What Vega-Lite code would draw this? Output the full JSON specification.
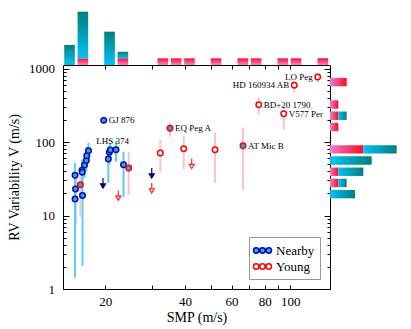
{
  "$schema": "https://vega.github.io/schema/vega-lite/v6.json",
  "padding": {"left": 7, "top": 0, "right": 0, "bottom": 0},
  "columns": 2,
  "spacing": 0,
  "align": "each",
  "bounds": "flush",
  "resolve": {"scale": {"fill": "independent", "stroke": "independent", "color": "independent"}, "legend": {"fill": "independent", "stroke": "independent", "color": "independent"}},
  "config": {
    "font": "Liberation Serif",
    "axis": {"grid": false, "domain": false, "tickColor": "#000000", "labelColor": "#000000", "titleColor": "#000000", "labelFontSize": 13, "titleFontSize": 14, "titleFontWeight": "normal", "labelOverlap": false, "labelFlush": false, "tickWidth": 1},
    "legend": {"labelFontSize": 13, "labelColor": "#000000"}
  },
  "datasets": {
    "pts": [
      {"smp": 15.37, "v": 35.4, "lo": 16.4, "hi": 52.4, "sample": "Nearby"},
      {"smp": 15.43, "v": 22.96, "lo": 7.49, "hi": 32.7, "sample": "Nearby"},
      {"smp": 15.37, "v": 16.84, "lo": 1.42, "hi": 26.3, "sample": "Nearby"},
      {"smp": 16.33, "v": 41.4, "lo": 22.5, "hi": 57.6, "sample": "Nearby"},
      {"smp": 16.40, "v": 18.73, "lo": 2.07, "hi": 34.8, "sample": "Nearby"},
      {"smp": 16.36, "v": 38.9, "lo": 28.9, "hi": 49.2, "sample": "Nearby"},
      {"smp": 16.69, "v": 48.75, "lo": 32.7, "hi": 67.3, "sample": "Nearby"},
      {"smp": 16.96, "v": 56.3, "lo": 39.5, "hi": 78.8, "sample": "Nearby"},
      {"smp": 17.02, "v": 65.3, "lo": 47.7, "hi": 86.6, "sample": "Nearby"},
      {"smp": 17.28, "v": 76.3, "lo": 57.6, "hi": 98.1, "sample": "Nearby"},
      {"smp": 19.72, "v": 197.5, "sample": "Nearby", "label": "GJ 876"},
      {"smp": 20.53, "v": 58.9, "lo": 28.0, "hi": 83.9, "sample": "Nearby"},
      {"smp": 20.71, "v": 72.9, "lo": 49.2, "hi": 92.2, "sample": "Nearby"},
      {"smp": 20.89, "v": 78.1, "lo": 57.6, "hi": 98.1, "sample": "Nearby"},
      {"smp": 21.95, "v": 78.8, "lo": 54.1, "hi": 102.9, "sample": "Nearby"},
      {"smp": 23.43, "v": 49.2, "lo": 18.0, "hi": 74.0, "sample": "Nearby"},
      {"smp": 16.09, "v": 26.28, "lo": 9.63, "hi": 33.8, "sample": "Young", "both": true},
      {"smp": 24.51, "v": 44.4, "lo": 19.2, "hi": 74.0, "sample": "Young", "both": true},
      {"smp": 32.27, "v": 71.0, "lo": 38.3, "hi": 107.8, "sample": "Young"},
      {"smp": 35.12, "v": 154.7, "lo": 118.5, "hi": 183.8, "sample": "Young", "both": true, "label": "EQ Peg A"},
      {"smp": 39.56, "v": 81.3, "lo": 42.1, "hi": 122.3, "sample": "Young"},
      {"smp": 51.94, "v": 78.8, "lo": 28.0, "hi": 134.3, "sample": "Young"},
      {"smp": 66.26, "v": 89.3, "lo": 22.5, "hi": 157.1, "sample": "Young", "both": true, "label": "AT Mic B"},
      {"smp": 75.97, "v": 323.2, "lo": 236.2, "hi": 402.6, "sample": "Young", "label": "BD+20 1790"},
      {"smp": 94.41, "v": 243.8, "lo": 147.5, "hi": 270, "sample": "Young", "label": "V577 Per"},
      {"smp": 103.5, "v": 592.2, "lo": 471, "hi": 680, "sample": "Young", "label": "HD 160934 AB"},
      {"smp": 126.9, "v": 770.5, "lo": 644.8, "hi": 882, "sample": "Young", "label": "LO Peg"},
      {"smp": 19.60, "v": 27.7, "sample": "Nearby", "limit": true},
      {"smp": 29.95, "v": 37.9, "sample": "Nearby", "limit": true},
      {"smp": 22.39, "v": 18.8, "sample": "Young", "limit": true},
      {"smp": 29.95, "v": 23.7, "sample": "Young", "limit": true},
      {"smp": 42.41, "v": 50.8, "sample": "Young", "limit": true}
    ],
    "notes": [
      {"smp": 21.29, "v": 104.5, "text": "LHS 374"}
    ],
    "histx": [
      {"lo": 13.99, "hi": 15.34, "series": "Nearby", "n": 3},
      {"lo": 15.71, "hi": 17.23, "series": "Young", "n": 1},
      {"lo": 15.71, "hi": 17.23, "series": "Nearby", "n": 7},
      {"lo": 19.81, "hi": 21.73, "series": "Nearby", "n": 5},
      {"lo": 22.25, "hi": 24.40, "series": "Young", "n": 1},
      {"lo": 22.25, "hi": 24.40, "series": "Nearby", "n": 1},
      {"lo": 31.50, "hi": 34.54, "series": "Young", "n": 1},
      {"lo": 35.38, "hi": 38.80, "series": "Young", "n": 1},
      {"lo": 39.72, "hi": 43.55, "series": "Young", "n": 1},
      {"lo": 50.08, "hi": 54.91, "series": "Young", "n": 1},
      {"lo": 63.17, "hi": 69.27, "series": "Young", "n": 1},
      {"lo": 70.93, "hi": 77.77, "series": "Young", "n": 1},
      {"lo": 89.45, "hi": 98.08, "series": "Young", "n": 1},
      {"lo": 100.4, "hi": 110.1, "series": "Young", "n": 1},
      {"lo": 126.7, "hi": 138.9, "series": "Young", "n": 1}
    ],
    "histy": [
      {"lo": 574.1, "hi": 747.2, "series": "Young", "n": 2},
      {"lo": 284.4, "hi": 370.2, "series": "Young", "n": 1},
      {"lo": 200.2, "hi": 260.5, "series": "Young", "n": 1},
      {"lo": 200.2, "hi": 260.5, "series": "Nearby", "n": 1},
      {"lo": 140.9, "hi": 183.4, "series": "Young", "n": 1},
      {"lo": 69.82, "hi": 90.87, "series": "Young", "n": 4},
      {"lo": 69.82, "hi": 90.87, "series": "Nearby", "n": 4},
      {"lo": 49.14, "hi": 63.94, "series": "Nearby", "n": 5},
      {"lo": 34.59, "hi": 45.02, "series": "Young", "n": 1},
      {"lo": 34.59, "hi": 45.02, "series": "Nearby", "n": 3},
      {"lo": 24.35, "hi": 31.70, "series": "Young", "n": 1},
      {"lo": 24.35, "hi": 31.70, "series": "Nearby", "n": 1},
      {"lo": 17.14, "hi": 22.30, "series": "Nearby", "n": 3}
    ]
  },
  "concat": [
    {
      "width": 267,
      "height": 65,
      "view": {"stroke": null},
      "data": {"name": "histx"},
      "transform": [{"stack": "n", "groupby": ["lo"], "sort": [{"field": "series", "order": "descending"}], "as": ["n0", "n1"]}],
      "mark": {"type": "bar"},
      "encoding": {
        "x": {"field": "lo", "type": "quantitative", "scale": {"type": "log", "domain": [13.84, 141.2], "nice": false}, "axis": null},
        "x2": {"field": "hi"},
        "y": {"field": "n0", "type": "quantitative", "scale": {"domain": [0, 9.75], "nice": false}, "axis": null},
        "y2": {"field": "n1"},
        "fill": {
          "condition": {"test": "datum.series === 'Young'", "value": {"gradient": "linear", "x1": 0, "y1": 1, "x2": 0, "y2": 0, "stops": [{"offset": 0, "color": "#f08ad0"}, {"offset": 1, "color": "#ff0a2a"}]}},
          "value": {"gradient": "linear", "x1": 0, "y1": 1, "x2": 0, "y2": 0, "stops": [{"offset": 0, "color": "#00c2f5"}, {"offset": 1, "color": "#007f80"}]}
        }
      }
    },
    {
      "width": 82,
      "height": 65,
      "view": {"stroke": null},
      "data": {"values": [{}]},
      "mark": {"type": "text", "text": " "},
      "encoding": {}
    },
    {
      "width": 267,
      "height": 224,
      "view": {"stroke": "#000000", "strokeWidth": 1},
      "resolve": {"axis": {"x": "independent", "y": "independent"}},
      "layer": [
        {
          "data": {"name": "pts"},
          "transform": [{"filter": "isValid(datum.lo)"}],
          "mark": {"type": "rule", "strokeWidth": 2},
          "encoding": {
            "x": {"field": "smp", "type": "quantitative", "scale": {"type": "log", "domain": [13.84, 141.2], "nice": false},
              "axis": {"orient": "bottom", "values": [20, 30, 40, 50, 60, 70, 80, 90, 100], "format": "d", "labelExpr": "indexof([20,40,60,80,100], datum.value) >= 0 ? datum.label : ''", "tickSize": -4, "labelPadding": 10, "title": "SMP (m/s)", "titlePadding": 2}},
            "y": {"field": "lo", "type": "quantitative", "scale": {"type": "log", "domain": [1, 1120], "nice": false},
              "axis": {"orient": "left", "values": [1, 10, 100, 1000], "format": "d", "tickSize": -6, "labelPadding": 14.5, "title": "RV Variability V (m/s)", "titlePadding": 7}},
            "y2": {"field": "hi"},
            "color": {"condition": {"test": "datum.sample === 'Nearby'", "value": "#5ecbf3"}, "value": "#fac3cc"}
          }
        },
        {
          "data": {"name": "pts"},
          "transform": [{"filter": "datum.limit === true"}],
          "mark": {"type": "point", "shape": "M0,-1L0,0.15M-0.5,0.15L0.5,0.15L0,1Z", "filled": true, "size": 100, "strokeWidth": 1.2, "opacity": 1},
          "encoding": {
            "x": {"field": "smp", "type": "quantitative", "scale": {"type": "log", "domain": [13.84, 141.2], "nice": false},
              "axis": {"orient": "top", "values": [20, 30, 40, 50, 60, 70, 80, 90, 100], "labels": false, "tickSize": -4, "title": null}},
            "y": {"field": "v", "type": "quantitative", "scale": {"type": "log", "domain": [1, 1120], "nice": false},
              "axis": {"orient": "right", "values": [1, 10, 100, 1000], "labels": false, "tickSize": -6, "title": null}},
            "fill": {"condition": {"test": "datum.sample === 'Nearby'", "value": "#000080"}, "value": "#ffffff"},
            "stroke": {"condition": {"test": "datum.sample === 'Nearby'", "value": "#000080"}, "value": "#ff2020"}
          }
        },
        {
          "data": {"name": "pts"},
          "transform": [{"filter": "datum.limit !== true"}],
          "mark": {"type": "point", "shape": "circle", "filled": true, "size": 30, "strokeWidth": 1.5, "opacity": 1},
          "encoding": {
            "x": {"field": "smp", "type": "quantitative", "scale": {"type": "log", "domain": [13.84, 141.2], "nice": false}, "axis": null},
            "y": {"field": "v", "type": "quantitative", "scale": {"type": "log", "domain": [1, 1120], "nice": false},
              "axis": {"orient": "left", "values": [2, 3, 4, 5, 6, 7, 8, 9, 20, 30, 40, 50, 60, 70, 80, 90, 200, 300, 400, 500, 600, 700, 800, 900], "labels": false, "tickSize": -3, "title": null}},
            "stroke": {"field": "sample", "type": "nominal", "scale": {"domain": ["Nearby", "Young"], "range": ["#0a0aa8", "#ff0000"]},
              "legend": {"title": null, "orient": "bottom-right", "offset": 10, "symbolType": "M-1.2,0a0.36,0.36 0 1,0 0.72,0a0.36,0.36 0 1,0 -0.72,0M-0.36,0a0.36,0.36 0 1,0 0.72,0a0.36,0.36 0 1,0 -0.72,0M0.48,0a0.36,0.36 0 1,0 0.72,0a0.36,0.36 0 1,0 -0.72,0Z", "symbolSize": 225, "symbolStrokeWidth": 1.5, "labelOffset": 5, "padding": 5, "rowPadding": 0, "strokeColor": "#999999", "fillColor": "#ffffff"}},
            "fill": {"condition": {"test": "datum.both === true", "value": "#22aaee"}, "field": "sample", "type": "nominal", "scale": {"domain": ["Nearby", "Young"], "range": ["#22aaee", "#ffffff"]},
              "legend": {"title": null, "orient": "bottom-right", "offset": 10, "symbolType": "M-1.2,0a0.36,0.36 0 1,0 0.72,0a0.36,0.36 0 1,0 -0.72,0M-0.36,0a0.36,0.36 0 1,0 0.72,0a0.36,0.36 0 1,0 -0.72,0M0.48,0a0.36,0.36 0 1,0 0.72,0a0.36,0.36 0 1,0 -0.72,0Z", "symbolSize": 225, "symbolStrokeWidth": 1.5, "labelOffset": 5, "padding": 5, "rowPadding": 0, "strokeColor": "#999999", "fillColor": "#ffffff"}}
          }
        },
        {
          "data": {"name": "pts"},
          "transform": [{"filter": "indexof(['GJ 876','EQ Peg A','AT Mic B','BD+20 1790','V577 Per'], datum.label) >= 0"}],
          "mark": {"type": "text", "align": "left", "baseline": "middle", "dx": 5, "fontSize": 9, "color": "#000000"},
          "encoding": {
            "x": {"field": "smp", "type": "quantitative", "scale": {"type": "log", "domain": [13.84, 141.2], "nice": false}, "axis": null},
            "y": {"field": "v", "type": "quantitative", "scale": {"type": "log", "domain": [1, 1120], "nice": false},
              "axis": {"orient": "right", "values": [2, 3, 4, 5, 6, 7, 8, 9, 20, 30, 40, 50, 60, 70, 80, 90, 200, 300, 400, 500, 600, 700, 800, 900], "labels": false, "tickSize": -3, "title": null}},
            "text": {"field": "label"}
          }
        },
        {
          "data": {"name": "pts"},
          "transform": [{"filter": "indexof(['LO Peg','HD 160934 AB'], datum.label) >= 0"}],
          "mark": {"type": "text", "align": "right", "baseline": "middle", "dx": -5, "fontSize": 9, "color": "#000000"},
          "encoding": {
            "x": {"field": "smp", "type": "quantitative", "scale": {"type": "log", "domain": [13.84, 141.2], "nice": false}, "axis": null},
            "y": {"field": "v", "type": "quantitative", "scale": {"type": "log", "domain": [1, 1120], "nice": false}, "axis": null},
            "text": {"field": "label"}
          }
        },
        {
          "data": {"name": "notes"},
          "mark": {"type": "text", "align": "center", "baseline": "middle", "fontSize": 9, "color": "#000000"},
          "encoding": {
            "x": {"field": "smp", "type": "quantitative", "scale": {"type": "log", "domain": [13.84, 141.2], "nice": false}, "axis": null},
            "y": {"field": "v", "type": "quantitative", "scale": {"type": "log", "domain": [1, 1120], "nice": false}, "axis": null},
            "text": {"field": "text"}
          }
        }
      ]
    },
    {
      "width": 82,
      "height": 224,
      "view": {"stroke": null},
      "data": {"name": "histy"},
      "transform": [{"stack": "n", "groupby": ["lo"], "sort": [{"field": "series", "order": "descending"}], "as": ["n0", "n1"]}],
      "mark": {"type": "bar"},
      "encoding": {
        "y": {"field": "lo", "type": "quantitative", "scale": {"type": "log", "domain": [1, 1120], "nice": false}, "axis": null},
        "y2": {"field": "hi"},
        "x": {"field": "n0", "type": "quantitative", "scale": {"domain": [0, 9.84], "nice": false}, "axis": null},
        "x2": {"field": "n1"},
        "fill": {
          "condition": {"test": "datum.series === 'Young'", "value": {"gradient": "linear", "x1": 0, "y1": 0, "x2": 1, "y2": 0, "stops": [{"offset": 0, "color": "#e680d4"}, {"offset": 1, "color": "#ff0a1e"}]}},
          "value": {"gradient": "linear", "x1": 0, "y1": 0, "x2": 1, "y2": 0, "stops": [{"offset": 0, "color": "#00c2f5"}, {"offset": 1, "color": "#007f80"}]}
        }
      }
    }
  ]
}
